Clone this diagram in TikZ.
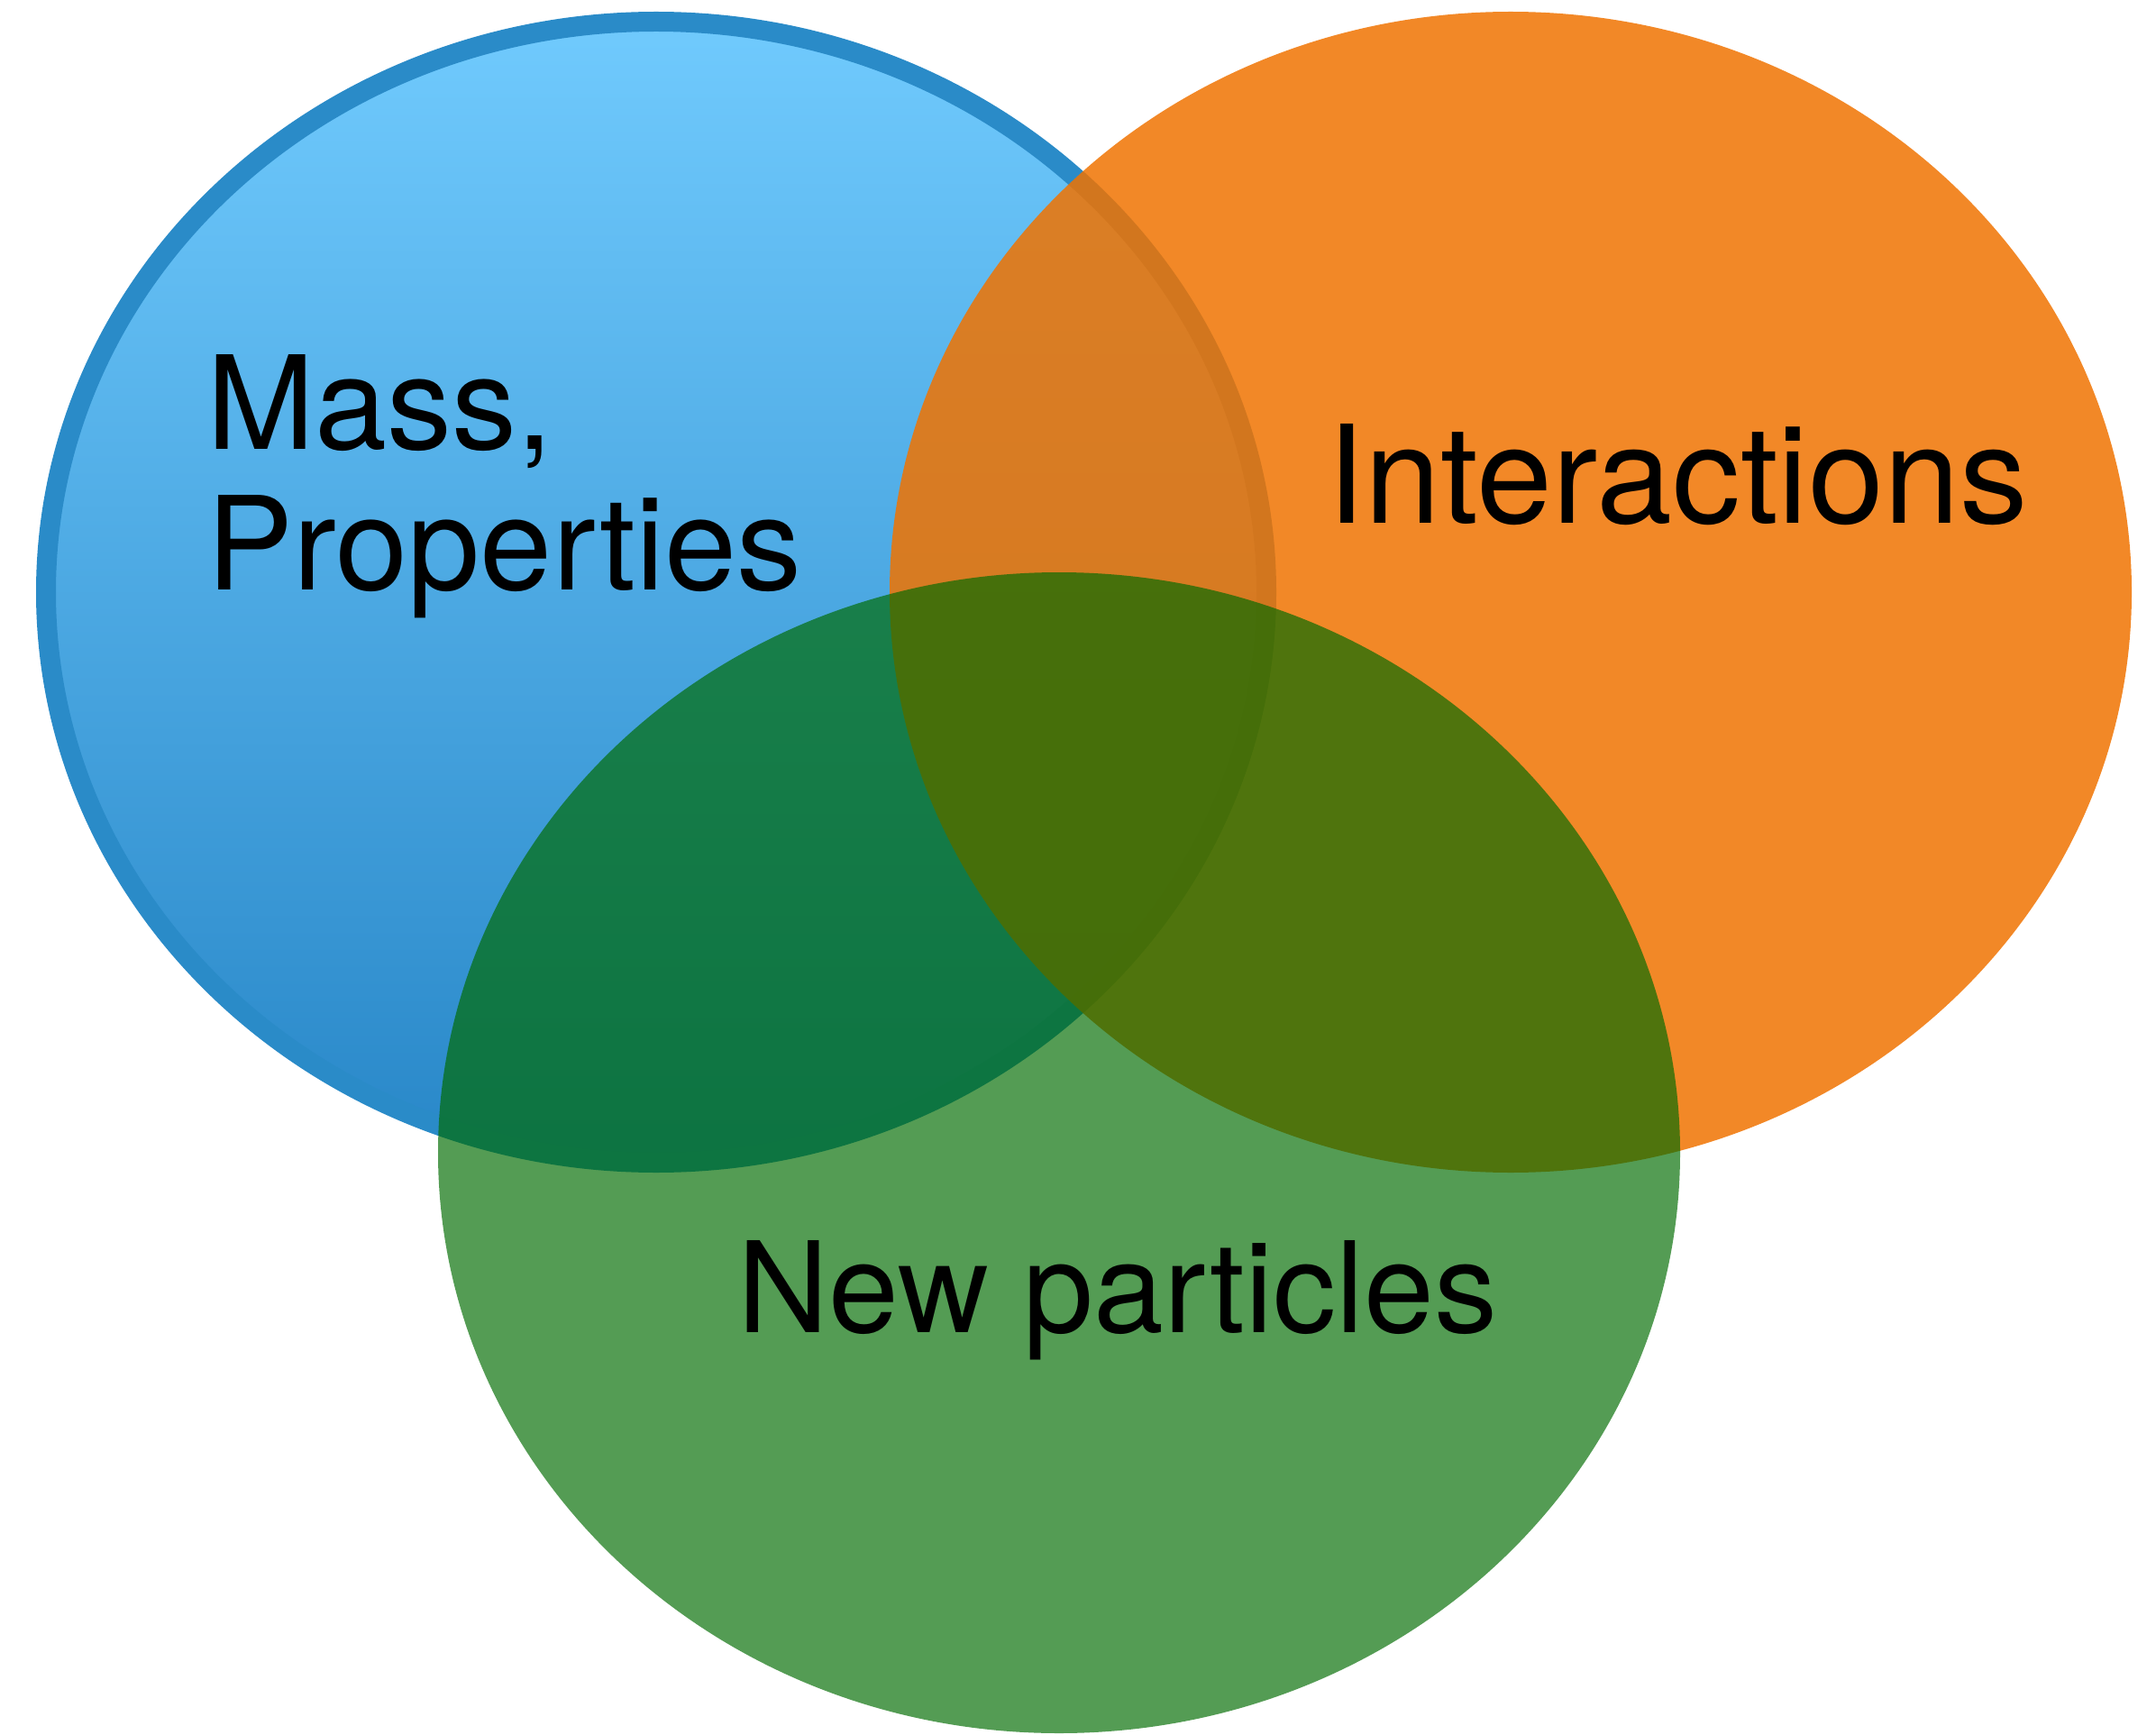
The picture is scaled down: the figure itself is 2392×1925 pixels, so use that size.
\documentclass[tikz,border=0pt]{standalone}
\usepackage{fontspec}
\setmainfont{TeX Gyre Heros}
\usetikzlibrary{shapes.geometric}
\definecolor{bluetop}{RGB}{112,202,253}
\definecolor{bluebot}{RGB}{40,135,200}
\definecolor{bluering}{RGB}{42,139,200}
\definecolor{orangefill}{RGB}{240,115,1}
\definecolor{greenfill}{RGB}{0,107,0}
\tikzset{
  setbox/.style={ellipse, inner sep=0pt, outer sep=0pt},
  label text/.style={inner sep=0pt, anchor=base west, text=black,
    font=\fontsize{72}{78}\selectfont}
}
\begin{document}
\begin{tikzpicture}[x=0.5pt, y=-0.5pt]
  \useasboundingbox (0,0) rectangle (2392,1925);
  % blue set
  \node[setbox, minimum width=677pt, minimum height=633pt,
        top color=bluetop, bottom color=bluebot,
        draw=bluering, line width=11pt] (mass) at (728,657) {};
  % orange set
  \node[setbox, minimum width=689pt, minimum height=644pt,
        fill=orangefill, fill opacity=0.85] (inter) at (1676,657) {};
  % green set
  \node[setbox, minimum width=689pt, minimum height=644pt,
        fill=greenfill, fill opacity=0.67] (newp) at (1175,1279) {};
  % labels
  \node[label text] (massl) at (229,499) {Mass,};
  \node[label text] (propl) at (229,654) {Properties};
  \node[label text, font=\fontsize{75.5}{80}\selectfont] (interl) at (1472,581) {Interactions};
  \node[label text, font=\fontsize{70}{76}\selectfont] (newl) at (818,1478) {New particles};
\end{tikzpicture}
\end{document}
